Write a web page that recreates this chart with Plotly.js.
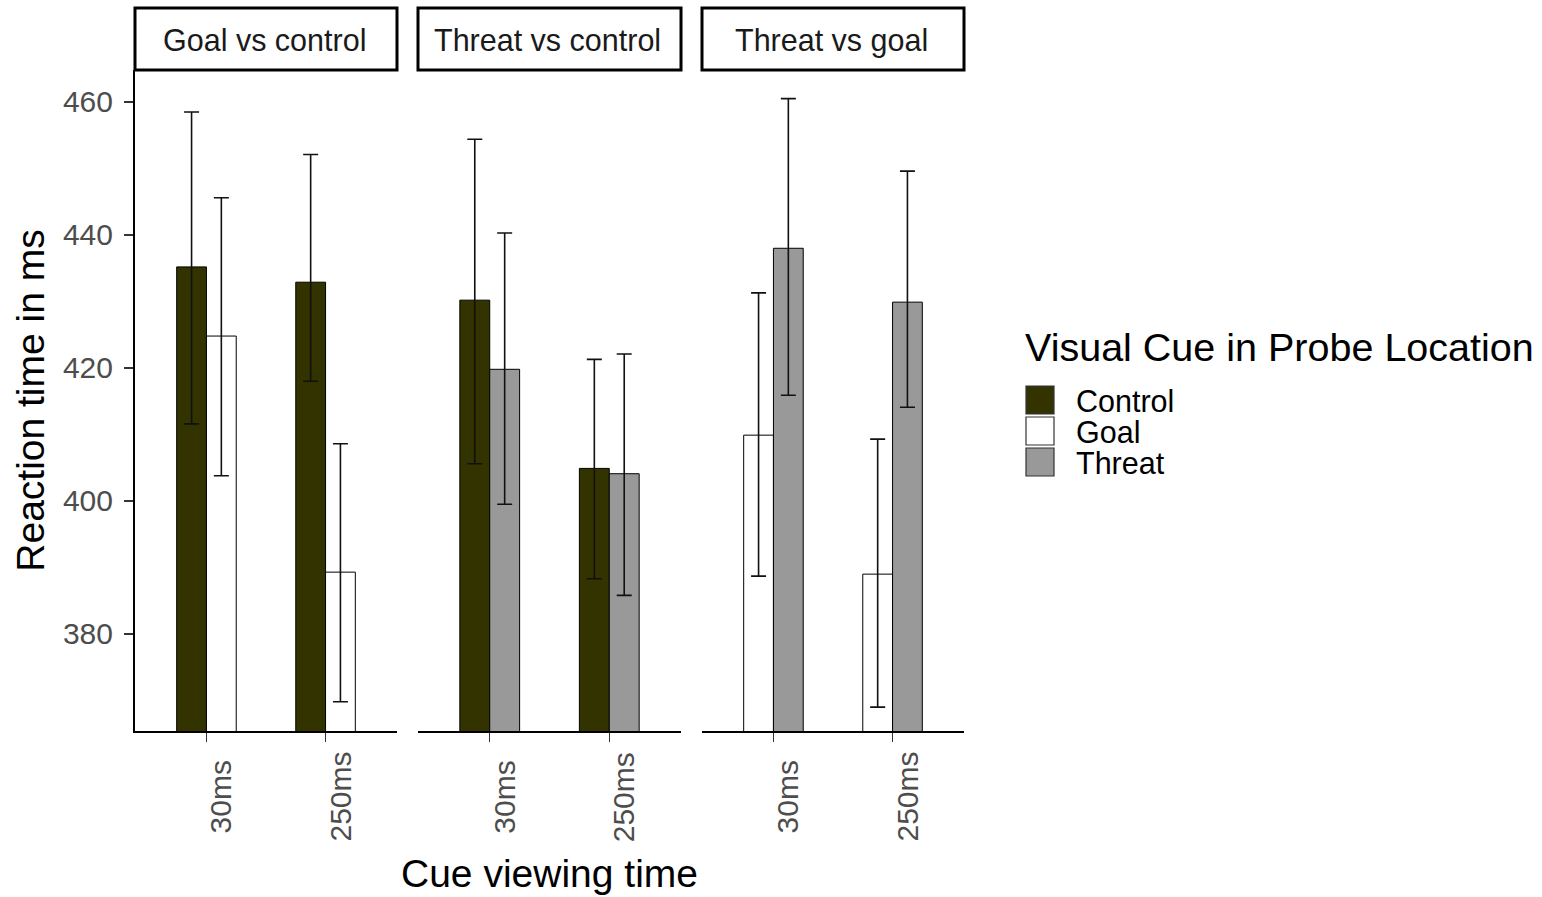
<!DOCTYPE html>
<html><head><meta charset="utf-8">
<script src="https://cdn.plot.ly/plotly-3.0.1.min.js"></script>
<style>html,body{margin:0;padding:0;background:#fff;}#chart{width:1542px;height:897px;}</style>
</head><body><div id="chart"></div>
<script>
// ---------- data ----------
const cueTimes = ['30ms', '250ms'];
const panelTitles = ['Goal vs control', 'Threat vs control', 'Threat vs goal'];
const cueNames = ['Control', 'Goal', 'Threat'];
const cueColors = ['#333300', '#ffffff', '#999999'];
const yTicks = [380, 400, 420, 440, 460];

// Panel 1: Goal vs control
const gcControlMean  = [435.2, 432.9];
const gcControlUpper = [458.5, 452.1];
const gcControlLower = [411.6, 418.0];
const gcGoalMean  = [424.8, 389.3];
const gcGoalUpper = [445.6, 408.6];
const gcGoalLower = [403.8, 369.8];
// Panel 2: Threat vs control
const tcControlMean  = [430.2, 404.9];
const tcControlUpper = [454.4, 421.3];
const tcControlLower = [405.6, 388.3];
const tcThreatMean  = [419.8, 404.1];
const tcThreatUpper = [440.3, 422.1];
const tcThreatLower = [399.5, 385.8];
// Panel 3: Threat vs goal
const tgGoalMean  = [409.9, 389.0];
const tgGoalUpper = [431.3, 409.3];
const tgGoalLower = [388.7, 369.0];
const tgThreatMean  = [438.0, 429.9];
const tgThreatUpper = [460.5, 449.6];
const tgThreatLower = [415.9, 414.1];

// ---------- layout geometry ----------
const W = 1542, H = 897;
const M = {l: 135, r: 578, t: 70, b: 166};
const PW = W - M.l - M.r, PH = H - M.t - M.b;
const px2x = px => (px - M.l) / PW;
const py2y = py => (H - M.b - py) / PH;
const panelPx = [[135, 397], [418, 681], [702, 964]];
const FONT = '"Liberation Sans", Arial, sans-serif';

const panels = [
  {axis: 'x',  series: [
    {cue: 'Control', mean: gcControlMean, upper: gcControlUpper, lower: gcControlLower},
    {cue: 'Goal',    mean: gcGoalMean,    upper: gcGoalUpper,    lower: gcGoalLower}]},
  {axis: 'x2', series: [
    {cue: 'Control', mean: tcControlMean, upper: tcControlUpper, lower: tcControlLower},
    {cue: 'Threat',  mean: tcThreatMean,  upper: tcThreatUpper,  lower: tcThreatLower}]},
  {axis: 'x3', series: [
    {cue: 'Goal',    mean: tgGoalMean,    upper: tgGoalUpper,    lower: tgGoalLower},
    {cue: 'Threat',  mean: tgThreatMean,  upper: tgThreatUpper,  lower: tgThreatLower}]}
];

const traces = [];
panels.forEach(p => {
  p.series.forEach(s => {
    const ci = cueNames.indexOf(s.cue);
    traces.push({
      type: 'bar', x: cueTimes, y: s.mean, name: s.cue,
      xaxis: p.axis, yaxis: 'y', showlegend: false,
      marker: {color: cueColors[ci], line: {color: '#000000', width: 1}},
      error_y: {type: 'data', symmetric: false,
        array: s.upper.map((u, i) => u - s.mean[i]),
        arrayminus: s.mean.map((m, i) => m - s.lower[i]),
        color: '#111111', thickness: 1.6, width: 7.5},
      hoverinfo: 'x+y+name'
    });
  });
});

const shapes = [], annotations = [];
panelTitles.forEach((t, i) => {
  const x0 = px2x(panelPx[i][0]), x1 = px2x(panelPx[i][1]);
  shapes.push({type: 'rect', xref: 'paper', yref: 'paper', x0: x0, x1: x1,
    y0: py2y(70), y1: py2y(8), line: {color: '#000', width: 3}, fillcolor: '#fff', layer: 'above'});
  annotations.push({xref: 'paper', yref: 'paper', x: (x0 + x1) / 2 - 0.002, y: py2y(40),
    text: t, showarrow: false, xanchor: 'center', yanchor: 'middle',
    font: {family: FONT, size: 30.5, color: '#1a1a1a'}});
});
// rotated category labels, centred like ggplot's angle=90
panels.forEach(p => {
  cueTimes.forEach(c => {
    annotations.push({xref: p.axis, yref: 'paper', x: c, y: py2y(797), text: c,
      showarrow: false, textangle: -90, xanchor: 'center', yanchor: 'middle', xshift: 14,
      font: {family: FONT, size: 30, color: '#4d4d4d'}});
  });
});
// legend
annotations.push({xref: 'paper', yref: 'paper', x: px2x(1023), y: py2y(347),
  text: 'Visual Cue in Probe Location', showarrow: false, xanchor: 'left', yanchor: 'middle',
  font: {family: FONT, size: 39.5, color: '#000'}});
cueNames.forEach((n, i) => {
  const top = 386 + i * 31;
  shapes.push({type: 'rect', xref: 'paper', yref: 'paper', x0: px2x(1026), x1: px2x(1054),
    y0: py2y(top + 28), y1: py2y(top), fillcolor: cueColors[i], line: {color: '#333', width: 1.2}});
  annotations.push({xref: 'paper', yref: 'paper', x: px2x(1074), y: py2y(top + 15),
    text: n, showarrow: false, xanchor: 'left', yanchor: 'middle',
    font: {family: FONT, size: 30.5, color: '#000'}});
});

const xBase = {type: 'category', range: [-0.6, 1.6], showline: true, linecolor: '#000', linewidth: 2,
  ticks: 'outside', ticklen: 9, tickwidth: 1.5, tickcolor: '#333', showticklabels: false,
  showgrid: false, zeroline: false, fixedrange: true, anchor: 'y'};

const layout = {
  width: W, height: H, margin: M, paper_bgcolor: '#fff', plot_bgcolor: 'rgba(0,0,0,0)',
  font: {family: FONT},
  barmode: 'group', bargap: 0.5, bargroupgap: 0, showlegend: false,
  xaxis:  Object.assign({}, xBase, {domain: [px2x(panelPx[0][0]), px2x(panelPx[0][1])]}),
  xaxis2: Object.assign({}, xBase, {domain: [px2x(panelPx[1][0]), px2x(panelPx[1][1])],
    title: {text: 'Cue viewing time', font: {family: FONT, size: 39, color: '#000'}, standoff: 119}}),
  xaxis3: Object.assign({}, xBase, {domain: [px2x(panelPx[2][0]), px2x(panelPx[2][1])]}),
  yaxis: {range: [365.41, 464.81], tickvals: yTicks, ticktext: yTicks.map(String),
    showline: true, linecolor: '#000', linewidth: 2, ticks: 'outside', ticklen: 9, tickwidth: 1.5,
    tickcolor: '#333', tickfont: {family: FONT, size: 30, color: '#4d4d4d'}, ticklabelstandoff: 5,
    showgrid: false, zeroline: false, fixedrange: true, anchor: 'x',
    title: {text: 'Reaction time in ms', font: {family: FONT, size: 39, color: '#000'}, standoff: 6}},
  shapes: shapes, annotations: annotations
};

Plotly.newPlot('chart', traces, layout, {staticPlot: true, displayModeBar: false});
</script>
</body></html>
